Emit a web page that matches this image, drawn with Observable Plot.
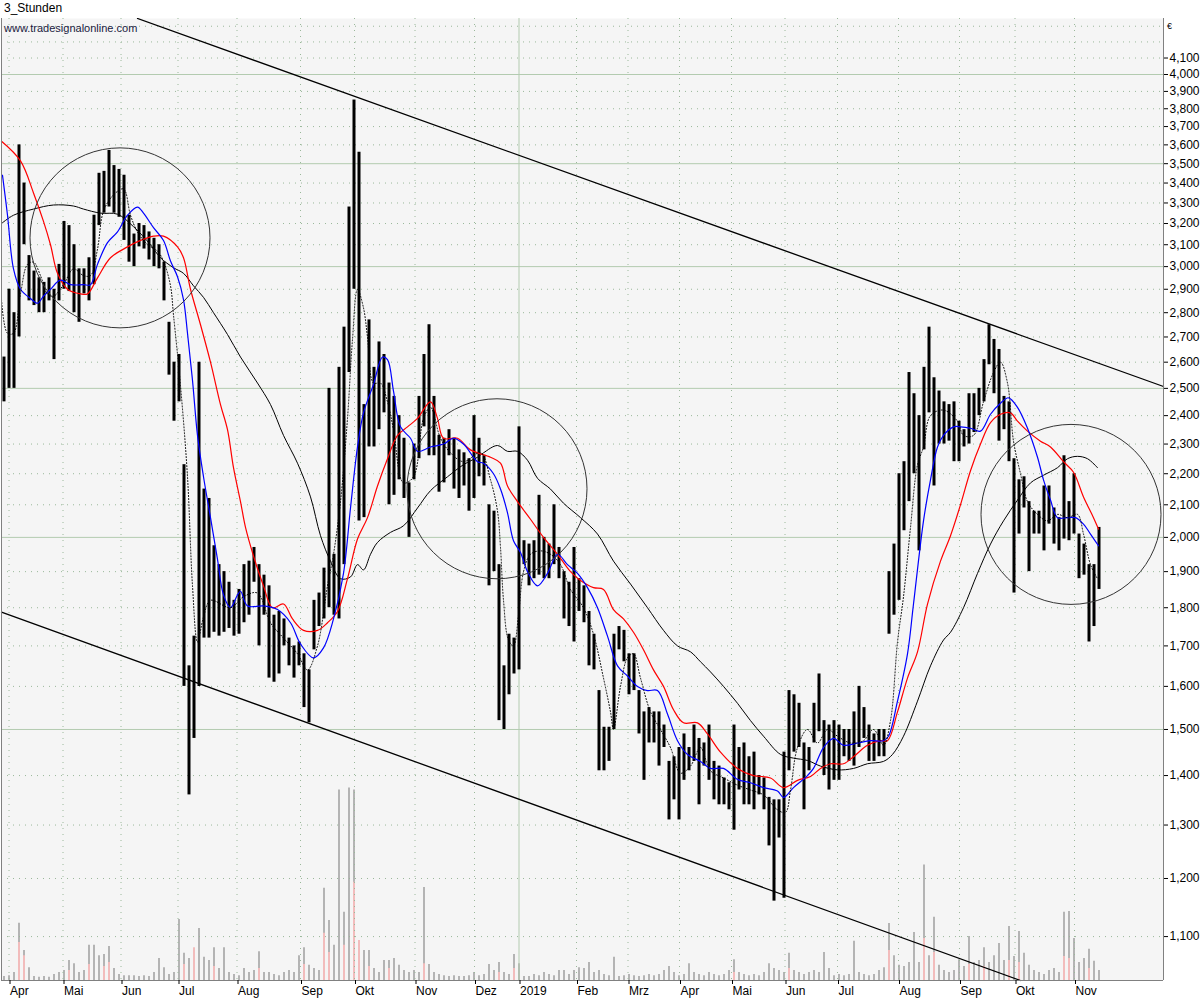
<!DOCTYPE html>
<html><head><meta charset="utf-8">
<script src="https://cdn.jsdelivr.net/npm/d3@7"></script>
<script src="https://cdn.jsdelivr.net/npm/@observablehq/plot@0.6"></script>
<style>
body{margin:0;background:#fff;}
#wrap{position:relative;width:1200px;height:1000px;overflow:hidden;font-family:"Liberation Sans",Arial,sans-serif;background:#fff;}
#title{position:absolute;left:4px;top:1px;font-size:12px;color:#000;}
#site{position:absolute;left:4px;top:22px;font-size:11px;color:#1a1a40;z-index:3;}
#euro{position:absolute;left:1167px;top:21px;font-size:9px;color:#000;z-index:3;}
.layer{position:absolute;left:0;top:18px;}
</style></head>
<body>
<div id="wrap">
  <div id="title">3_Stunden</div>
  <div id="vol" class="layer"></div>
  <div id="main" class="layer"></div>
  <div id="site">www.tradesignalonline.com</div>
  <div id="euro">€</div>
</div>
<script>
// ---- data: 3-hour chart, one entry per period slot ----
const lows = [
2450,2500,2500,2700,3100,2850,2830,2800,2800,2850,
2610,2850,2900,2890,2800,2760,2880,2850,2920,3190,
3250,3280,3250,3230,3120,3020,3000,3090,3080,3030,
3000,2990,2850,2550,2380,2450,1600,1360,1480,1600,
1720,1720,1735,1725,1735,1745,1725,1730,1760,1780,
1870,1700,1780,1620,1610,1630,1700,1650,1620,1650,
1550,1515,1690,1750,1770,1800,1780,1770,1920,2560,
2900,2050,2060,2290,2290,2350,2410,2100,2130,2180,
2120,2000,2180,2250,2360,2260,2260,2140,2170,2260,
2150,2120,2160,2080,2120,2190,2160,1860,1900,1520,
1500,1580,1630,1640,1920,1860,1880,1890,1880,1880,
1920,1880,1770,1750,1710,1790,1760,1650,1640,1410,
1410,1430,1500,1690,1660,1580,1590,1490,1390,1470,
1470,1420,1460,1310,1350,1310,1390,1410,1430,1340,
1420,1390,1350,1340,1340,1330,1290,1370,1340,1340,
1330,1360,1330,1260,1160,1275,1165,1410,1450,1460,
1330,1410,1470,1495,1400,1370,1390,1390,1440,1430,
1420,1460,1480,1430,1430,1440,1440,1730,1780,1820,
2020,2110,2200,1960,2280,2410,2160,2300,2300,2310,
2240,2240,2290,2300,2340,2400,2450,2590,2480,2310,
2350,2240,1840,2010,2090,1900,2010,2010,1960,2040,
1980,1960,1995,1990,2010,1880,1890,1710,1750,1850];
const highs = [
2620,2900,2800,3600,3400,3050,2980,2950,2930,2950,
2900,3010,3210,3190,3100,2990,2990,3040,3240,3450,
3460,3570,3490,3470,3440,3240,3150,3200,3190,3160,
3130,3100,3020,2760,2600,2630,2230,1650,1725,2600,
2150,2120,1975,1920,1900,1870,1820,1850,1920,1930,
1970,1920,1890,1860,1780,1790,1770,1720,1700,1710,
1680,1640,1820,1840,1910,2500,1950,2580,2740,3280,
3850,3560,2440,2770,2580,2680,2630,2520,2470,2400,
2320,2170,2300,2470,2630,2750,2470,2330,2320,2350,
2320,2280,2270,2250,2400,2320,2260,2100,2080,1920,
1650,1730,1720,2360,1990,1980,1990,2130,2000,1980,
2100,1970,1900,1870,1970,1880,1860,1790,1730,1590,
1505,1505,1730,1750,1740,1680,1680,1590,1540,1550,
1540,1540,1510,1430,1440,1460,1490,1460,1510,1480,
1470,1510,1430,1420,1395,1385,1510,1460,1470,1440,
1450,1400,1395,1355,1350,1350,1450,1590,1580,1560,
1470,1460,1560,1630,1520,1510,1520,1510,1500,1500,
1540,1600,1550,1510,1490,1500,1500,1900,1980,2200,
2240,2560,2480,2400,2580,2740,2540,2490,2450,2440,
2450,2380,2350,2480,2480,2500,2610,2750,2690,2650,
2470,2450,2250,2180,2190,2110,2080,2080,2160,2160,
2090,2060,2260,2110,2200,2010,1980,1920,1920,2030];
const volume = [
10,12,20,143,75,32,10,8,10,8,
15,20,25,50,42,20,25,88,88,62,
65,85,30,15,12,12,12,10,12,10,
20,55,32,15,20,152,68,55,38,130,
58,50,82,30,82,20,15,12,30,20,
25,72,20,20,15,12,20,25,20,62,
82,38,30,25,230,150,88,475,170,480,
475,100,75,75,30,20,50,50,55,38,
25,20,25,20,232,40,20,15,12,10,
12,10,10,12,20,12,15,40,25,45,
20,15,65,42,10,10,15,12,20,15,
12,25,25,15,25,32,30,45,20,25,
15,12,58,10,12,15,12,10,12,15,
12,15,25,35,20,12,15,42,20,15,
12,20,15,12,15,25,52,20,15,12,
15,12,20,42,30,25,20,68,25,20,
15,20,25,20,70,30,12,15,12,15,
98,20,15,12,15,25,32,142,62,38,
35,45,120,45,288,62,158,38,25,20,
25,52,35,110,45,50,82,45,62,92,
50,135,60,122,68,38,25,20,15,25,
30,20,170,172,105,45,55,78,48,25];
const pinkVolume = [[3,95],[4,62],[13,25],[17,40],[20,35],[21,45],[36,40],[38,82],[42,35],[51,30],
  [60,40],[64,118],[65,70],[68,88],[70,245],[71,100],[73,35],[77,30],[84,42],[99,20],[102,30],
  [146,20],[157,30],[177,75],[184,105],[186,70],[193,40],[196,35],[201,50],[203,45],[212,60],[213,55],[217,30]];

const maRed = [[0,3620],[3.8,3515],[6.4,3350],[8.4,3210],[9.8,3100],[11.2,2970],[13.2,2900],[15.8,2880],[17.2,2880],[19.2,2950],[21.8,3040],[25.2,3090],[27.8,3120],[30.4,3140],[32.4,3140],[35.2,3090],[36.4,3040],[37.8,2900],[39.8,2750],[41.8,2600],[43.8,2440],[45.2,2350],[46.4,2220],[47.8,2110],[48.8,2030],[50.4,1945],[52.4,1860],[54.2,1800],[56.4,1810],[58.2,1770],[60.4,1740],[63.2,1740],[65.2,1760],[67.2,1790],[69.2,1880],[71.2,1995],[73.2,2060],[75.2,2160],[77.2,2250],[79.2,2330],[81.2,2360],[83.2,2390],[85.8,2450],[87.2,2390],[88.4,2320],[91.2,2320],[93.8,2280],[97.8,2255],[99.8,2235],[101.2,2160],[103.2,2110],[105.8,2055],[108.4,2000],[111.2,1950],[113.8,1900],[115.8,1875],[118.4,1855],[120.4,1850],[122.4,1795],[124.4,1770],[126.4,1735],[128.4,1690],[130.4,1640],[132.4,1600],[134.4,1545],[136.4,1515],[139.2,1515],[141.2,1490],[143.8,1450],[147.2,1415],[150.4,1400],[153.8,1395],[156.4,1375],[159.2,1390],[161.8,1398],[163.8,1415],[165.8,1425],[168.4,1425],[170.4,1440],[173.2,1465],[175.8,1475],[177.2,1475],[179.2,1540],[181.2,1620],[183.2,1685],[185.2,1810],[187.8,1930],[189.8,2005],[191.8,2100],[193.8,2210],[195.8,2300],[197.8,2375],[199.8,2405],[201.8,2410],[203.2,2380],[205.2,2345],[207.8,2310],[209.8,2290],[212.4,2240],[214.4,2205],[216.4,2125],[218.4,2060],[219.4,2025]];
const maBlue = [[0.2,3440],[1.2,3240],[2.4,2990],[3.8,2900],[5.8,2860],[7.2,2840],[8.4,2870],[9.8,2900],[11.8,2940],[13.8,2920],[16.4,2920],[17.8,2920],[19.2,3010],[21.2,3110],[23.2,3160],[25.2,3240],[27.2,3280],[28.4,3250],[30.4,3180],[32.4,3120],[33.8,3025],[35.2,2955],[36.4,2855],[37.2,2715],[38.2,2530],[39.2,2330],[40.4,2190],[41.8,2060],[43.2,1935],[44.4,1835],[45.8,1800],[47.2,1835],[47.8,1845],[49.2,1805],[52.4,1805],[55.2,1795],[57.8,1760],[59.8,1705],[62.4,1670],[64.4,1695],[66.4,1770],[68.4,1895],[69.8,2090],[71.2,2290],[72.4,2410],[74.4,2515],[76.2,2620],[77.2,2610],[78.4,2490],[79.8,2360],[81.8,2320],[83.2,2275],[85.8,2290],[88.4,2300],[90.4,2320],[92.4,2300],[95.2,2240],[96.4,2235],[98.4,2200],[99.8,2150],[101.2,2075],[102.4,1990],[103.8,1955],[105.2,1900],[107.2,1860],[109.2,1895],[111.2,1950],[113.2,1920],[115.2,1895],[117.2,1855],[119.2,1800],[121.2,1725],[123.2,1650],[125.2,1625],[127.2,1600],[129.2,1590],[131.2,1590],[133.2,1535],[135.2,1475],[137.2,1445],[139.8,1430],[141.8,1415],[144.4,1415],[147.2,1392],[149.8,1385],[152.4,1375],[155.2,1368],[156.4,1355],[158.4,1375],[161.2,1400],[162.4,1415],[164.4,1460],[166.4,1480],[168.4,1465],[171.2,1470],[173.8,1475],[176.4,1475],[177.4,1485],[179.2,1565],[181.2,1680],[182.4,1810],[184.4,2050],[185.8,2180],[187.2,2290],[188.4,2330],[190.4,2360],[191.8,2360],[193.8,2355],[195.8,2345],[197.8,2405],[199.8,2445],[201.4,2465],[203.2,2430],[205.2,2355],[207.2,2255],[208.4,2180],[209.8,2115],[211.2,2060],[213.2,2060],[214.8,2060],[216.4,2040],[217.8,2010],[219.4,1975]];
const maSlow = [[0,3200],[2.4,3240],[6.4,3270],[10.4,3290],[14.4,3285],[16.4,3270],[19.8,3250],[23.2,3245],[26.4,3185],[29.8,3100],[31.8,3040],[34.4,2995],[36.4,2970],[38.4,2915],[40.4,2865],[42.4,2800],[45.2,2710],[47.8,2620],[51.2,2520],[53.8,2440],[56.4,2330],[59.2,2235],[61.8,2125],[63.8,2005],[65.8,1930],[67.8,1880],[69.8,1885],[71.2,1920],[72.4,1905],[73.8,1950],[75.2,1985],[77.8,2015],[80.4,2035],[83.2,2090],[85.8,2145],[89.2,2190],[92.4,2230],[95.2,2255],[96.4,2270],[99.2,2295],[101.2,2275],[103.2,2275],[105.2,2245],[107.2,2185],[109.8,2150],[112.4,2105],[115.8,2060],[119.2,2010],[122.4,1930],[125.8,1865],[129.2,1800],[132.4,1740],[135.2,1700],[137.8,1685],[139.8,1660],[141.8,1635],[144.4,1600],[147.2,1560],[149.8,1520],[152.4,1485],[155.8,1445],[158.4,1437],[161.2,1432],[163.8,1420],[167.2,1412],[170.4,1415],[173.2,1425],[176.4,1430],[178.2,1445],[180.4,1485],[183.2,1565],[185.8,1650],[188.4,1715],[189.8,1735],[192.4,1800],[195.2,1895],[197.8,1980],[200.4,2050],[203.2,2115],[205.8,2170],[208.4,2195],[211.2,2220],[213.2,2250],[215.2,2258],[217.2,2250],[219.2,2220]];
const maFast = [[0,2855],[1.2,2715],[2.4,2715],[3.8,2880],[5.2,3010],[6.4,3020],[7.8,2960],[9.2,2880],[10.4,2870],[12.4,2920],[14.4,2990],[16.4,2960],[17.8,2960],[19.2,3080],[20.4,3260],[22.4,3340],[24.4,3370],[25.8,3240],[27.2,3160],[29.2,3100],[31.2,3070],[32.4,3025],[33.8,2915],[34.4,2790],[35.8,2510],[37.2,2190],[38.2,1860],[39.2,1710],[40.4,1775],[41.8,1820],[45.8,1800],[48.4,1830],[51.2,1840],[53.8,1760],[56.4,1720],[59.2,1680],[61.2,1640],[63.2,1700],[65.2,1860],[66.4,1950],[67.8,2110],[69.2,2390],[70.2,2690],[71.2,2900],[72.4,2820],[73.2,2700],[74.4,2520],[75.8,2520],[77.2,2450],[78.4,2350],[80.4,2170],[82.4,2190],[84.4,2390],[85.8,2430],[87.8,2320],[89.8,2270],[92.4,2240],[95.8,2270],[97.8,2180],[99.2,2080],[99.8,1970],[100.4,1820],[101.4,1715],[102.4,1700],[103.4,1780],[104.4,1900],[105.8,1950],[107.8,1960],[109.8,1950],[111.8,1920],[113.8,1850],[116.4,1800],[118.4,1730],[120.4,1620],[121.8,1540],[122.4,1500],[123.8,1600],[125.2,1670],[126.4,1680],[127.8,1620],[129.8,1540],[131.8,1500],[133.8,1460],[135.8,1405],[137.8,1420],[139.8,1460],[141.8,1410],[144.4,1395],[147.2,1380],[149.8,1370],[152.4,1360],[155.2,1330],[156.8,1325],[157.8,1370],[159.2,1460],[161.2,1500],[163.2,1470],[165.2,1500],[167.2,1485],[169.8,1470],[172.4,1475],[174.4,1500],[176.4,1465],[177.8,1520],[179.2,1710],[180.4,1830],[181.8,2030],[183.2,2230],[184.4,2290],[185.8,2400],[188.4,2420],[191.2,2380],[192.4,2330],[194.4,2330],[196.4,2450],[198.4,2560],[199.8,2600],[201.2,2520],[202.4,2310],[203.8,2200],[205.2,2110],[207.2,2070],[209.2,2050],[211.2,2070],[213.2,2060],[215.2,2070],[216.4,2010],[217.8,1920],[219.2,1880]];

const monthTicks = [1.5,12.3,23.9,35.3,47.1,59.8,70.6,82.7,94.6,103.5,115.0,125.3,135.6,146.0,156.7,167.2,179.4,191.6,202.7,214.6];
const monthLabels = ["Apr","Mai","Jun","Jul","Aug","Sep","Okt","Nov","Dez","2019","Feb","Mrz","Apr","Mai","Jun","Jul","Aug","Sep","Okt","Nov"];
const yearStart = [103.5];
const priceTicks = [1100,1200,1300,1400,1500,1600,1700,1800,1900,2000,2100,2200,2300,2400,2500,2600,2700,2800,2900,3000,3100,3200,3300,3400,3500,3600,3700,3800,3900,4000,4100];
const extraGrid = [4200,4300];
const majorLevels = [1500,2000,2500,3000,3500,4000];
const upperTrend = [[27.2,4350],[232.4,2507]];
const lowerTrend = [[0,1788],[203.8,1030]];
const circles = [[23.7,3132],[99.1,2151],[213.9,2070]];

// ---- layout ----
const xDomain = [0, 232.4];
const yDomain = [1030, 4350];
const common = {width: 1200, height: 982, marginLeft: 1, marginRight: 37, marginTop: 0, marginBottom: 20};
const labelOf = new Map(monthTicks.map((t, i) => [t, monthLabels[i]]));
const bars = highs.map((h, i) => ({t: i + 0.5, low: lows[i], high: h}));
const gridDot = "#9ab89a";
const gridSolid = "#b3cbb0";
const P = d => d[0], V = d => d[1];

const vol = Plot.plot({
  ...common,
  style: {background: "transparent"},
  x: {domain: xDomain, axis: null},
  y: {domain: [0, 2400], axis: null},
  marks: [
    Plot.frame({fill: "#f5f5f5", stroke: "none"}),
    Plot.ruleX(volume, {x: (d, i) => i + 0.5, y1: 0, y2: d => d, stroke: "#b4b4b4", strokeWidth: 2}),
    Plot.ruleX(pinkVolume, {x: d => d[0] + 0.5, y1: 0, y2: V, stroke: "#f2bcbc", strokeWidth: 2})
  ]
});
document.getElementById("vol").appendChild(vol);

const main = Plot.plot({
  ...common,
  style: {background: "transparent", fontFamily: "Liberation Sans, Arial, sans-serif", fontSize: "12px", color: "#000"},
  x: {domain: xDomain, label: null},
  y: {type: "log", domain: yDomain, label: null},
  marks: [
    Plot.ruleY(priceTicks.concat(extraGrid).filter(v => !majorLevels.includes(v)), {stroke: gridDot, strokeDasharray: "1,5"}),
    Plot.ruleY(majorLevels, {stroke: gridSolid}),
    Plot.ruleX(monthTicks.filter(t => !yearStart.includes(t)), {stroke: gridDot, strokeDasharray: "1,5"}),
    Plot.ruleX(yearStart, {stroke: gridSolid}),
    Plot.ruleX(bars, {x: "t", y1: "low", y2: "high", stroke: "#000", strokeWidth: 3}),
    Plot.line(maSlow, {x: P, y: V, stroke: "#000", strokeWidth: 1, curve: "catmull-rom"}),
    Plot.line(maRed, {x: P, y: V, stroke: "#ff0000", strokeWidth: 1.2, curve: "catmull-rom"}),
    Plot.line(maBlue, {x: P, y: V, stroke: "#0000ff", strokeWidth: 1.2, curve: "catmull-rom"}),
    Plot.line(maFast, {x: P, y: V, stroke: "#000", strokeWidth: 1, strokeDasharray: "1,2", curve: "catmull-rom"}),
    Plot.line(upperTrend, {x: P, y: V, stroke: "#000", strokeWidth: 1.3}),
    Plot.line(lowerTrend, {x: P, y: V, stroke: "#000", strokeWidth: 1.3}),
    Plot.dot(circles, {x: P, y: V, r: 90, stroke: "#333", strokeWidth: 1, fill: "none"}),
    Plot.ruleX([xDomain[0], xDomain[1]], {stroke: "#808080"}),
    Plot.ruleY([yDomain[0]], {stroke: "#808080"}),
    Plot.axisY(priceTicks, {anchor: "right", tickFormat: d3.format(","), tickSize: 4, tickPadding: 2, fontSize: 12, label: null}),
    Plot.axisX(monthTicks, {anchor: "bottom", tickFormat: d => labelOf.get(d), tickSize: 4, tickPadding: 2, textAnchor: "start", dx: 1, fontSize: 12, label: null})
  ]
});
document.getElementById("main").appendChild(main);
</script>
</body></html>
